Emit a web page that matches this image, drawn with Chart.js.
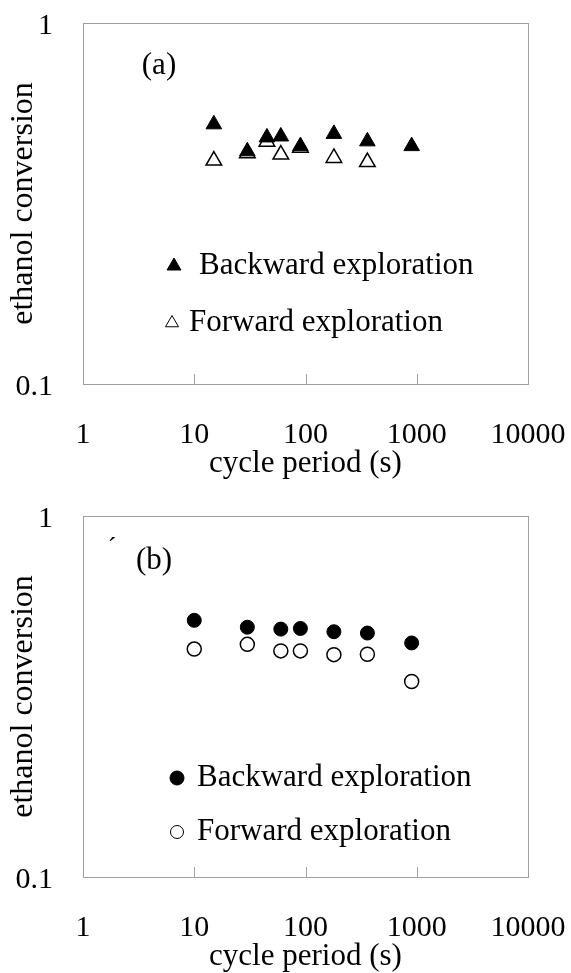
<!DOCTYPE html>
<html>
<head>
<meta charset="utf-8">
<title>ethanol conversion vs cycle period</title>
<script src="https://cdn.jsdelivr.net/npm/chart.js@4.4.0/dist/chart.umd.min.js"></script>
<style>
	html, body { margin: 0; padding: 0; background: #fff; overflow: hidden; }
	canvas { position: absolute; left: 0; }
	#painelA { top: 0; }
	#painelB { top: 493px; }
</style>
</head>
<body>
<canvas id="painelA" width="571" height="493"></canvas>
<canvas id="painelB" width="571" height="493"></canvas>
<script>
// valores
var periodTicks = [1, 10, 100, 1000, 10000];
var conversionTicks = [0.1, 1];
var seriesNames = ['Backward exploration', 'Forward exploration'];

// (a) triangulos
var periodsA = [15, 30, 45, 60, 90, 180, 360, 900];
var backwardA = [0.524, 0.441, 0.482, 0.485, 0.456, 0.493, 0.470, 0.456];
var periodsForwardA = [15, 30, 45, 60, 90, 180, 360];
var forwardA = [0.416, 0.436, 0.469, 0.432, 0.451, 0.423, 0.412];

// (b) circulos
var periodsB = [10, 30, 60, 90, 180, 360, 900];
var backwardB = [0.514, 0.492, 0.486, 0.488, 0.478, 0.474, 0.445];
var forwardB = [0.428, 0.441, 0.423, 0.423, 0.413, 0.414, 0.348];

var FONTE = "'Liberation Serif', 'Times New Roman', serif";

function pontos(xs, ys) {
	return xs.map(function(x, i) {
		return {x: x, y: ys[i]};
	});
}

//sem folga extra dos rotulos, a area do grafico fica so com o layout.padding
function semFolga(s) {
	s.paddingLeft = 0;
	s.paddingRight = 0;
	s.paddingTop = 0;
	s.paddingBottom = 0;
}

function desenhaMarcador(ctx, estilo, x, y, r, cheio, espessura) {
	ctx.beginPath();
	if (estilo === 'triangle') {
		var dx = Math.sin(Math.PI * 2 / 3) * r;
		ctx.moveTo(x, y - r);
		ctx.lineTo(x + dx, y + r / 2);
		ctx.lineTo(x - dx, y + r / 2);
		ctx.closePath();
	} else {
		ctx.arc(x, y, r, 0, Math.PI * 2);
	}
	ctx.fillStyle = cheio ? '#000' : '#fff';
	ctx.fill();
	ctx.lineWidth = espessura;
	ctx.strokeStyle = '#000';
	ctx.stroke();
}

// moldura cinza, tracinhos internos, legenda e rotulo do painel
var molduraPlugin = {
	id: 'moldura',
	beforeDatasetsDraw: function(chart) {
		var area = chart.chartArea;
		var ctx = chart.ctx;
		var sx = chart.scales.x;
		ctx.save();
		ctx.strokeStyle = '#a0a0a0';
		ctx.lineWidth = 1;
		ctx.strokeRect(Math.round(area.left) + 0.5, Math.round(area.top) + 0.5,
			Math.round(area.right - area.left), Math.round(area.bottom - area.top));
		periodTicks.slice(1, -1).forEach(function(v) {
			var px = Math.round(sx.getPixelForValue(v)) + 0.5;
			ctx.beginPath();
			ctx.moveTo(px, area.bottom);
			ctx.lineTo(px, area.bottom - 10);
			ctx.stroke();
		});
		ctx.restore();
	},
	afterDraw: function(chart, args, opts) {
		var ctx = chart.ctx;
		ctx.save();
		ctx.font = '31px ' + FONTE;
		ctx.fillStyle = '#000';
		ctx.textBaseline = 'middle';
		opts.legenda.forEach(function(item, i) {
			desenhaMarcador(ctx, opts.estilo, item.mx, item.my, item.r, i === 0, 1);
			ctx.fillStyle = '#000';
			ctx.textAlign = 'left';
			ctx.fillText(seriesNames[i], item.tx, item.my);
		});
		ctx.textAlign = 'center';
		ctx.fillText(opts.rotulo, opts.rotuloX, opts.rotuloY);
		if (opts.marca) {
			ctx.font = '26px ' + FONTE;
			ctx.fillText(opts.marca, opts.marcaX, opts.marcaY);
		}
		ctx.restore();
	}
};

function PainelConversao(canvasId, datasets, extras) {
	this.ctx = document.getElementById(canvasId);
	this.datasets = datasets;
	this.extras = extras;
}

PainelConversao.prototype.iniciar = function() {
	new Chart(this.ctx, {
		type: 'scatter',
		data: { datasets: this.datasets },
		plugins: [molduraPlugin],
		options: {
			responsive: false,
			animation: false,
			devicePixelRatio: 1,
			events: [],
			layout: { padding: { top: 23, right: 43, bottom: 0, left: 0 } },
			plugins: {
				legend: { display: false },
				tooltip: { enabled: false },
				moldura: this.extras
			},
			scales: {
				x: {
					type: 'logarithmic',
					min: 1,
					max: 10000,
					afterBuildTicks: function(s) {
						s.ticks = periodTicks.map(function(v) { return {value: v}; });
					},
					afterFit: function(s) {
						s.height = 109;
						semFolga(s);
					},
					grid: { display: false, drawTicks: false },
					border: { display: false },
					ticks: {
						color: '#000',
						font: { family: FONTE, size: 30 },
						padding: 33,
						maxRotation: 0,
						autoSkip: false,
						callback: function(v) { return String(v); }
					},
					title: {
						display: true,
						text: 'cycle period (s)',
						color: '#000',
						font: { family: FONTE, size: 31 },
						padding: { top: 0, bottom: 11 }
					}
				},
				y: {
					type: 'logarithmic',
					min: 0.1,
					max: 1,
					afterBuildTicks: function(s) {
						s.ticks = conversionTicks.map(function(v) { return {value: v}; });
					},
					afterFit: function(s) {
						s.width = 83;
						semFolga(s);
					},
					grid: { display: false, drawTicks: false },
					border: { display: false },
					ticks: {
						color: '#000',
						font: { family: FONTE, size: 30 },
						padding: 30,
						labelOffset: 3,
						autoSkip: false,
						callback: function(v) { return String(v); }
					},
					title: {
						display: true,
						text: 'ethanol conversion',
						color: '#000',
						font: { family: FONTE, size: 32 },
						padding: { top: 4, bottom: 0 }
					}
				}
			}
		}
	});
};

var painelA = new PainelConversao('painelA', [{
	label: seriesNames[0],
	data: pontos(periodsA, backwardA),
	pointStyle: 'triangle',
	pointRadius: 9,
	backgroundColor: '#000',
	borderColor: '#000',
	borderWidth: 1
}, {
	label: seriesNames[1],
	data: pontos(periodsForwardA, forwardA),
	pointStyle: 'triangle',
	pointRadius: 9,
	backgroundColor: '#fff',
	borderColor: '#000',
	borderWidth: 1.5
}], {
	estilo: 'triangle',
	legenda: [
		{ mx: 174, my: 266, r: 8, tx: 199 },
		{ mx: 172, my: 323, r: 7.5, tx: 189 }
	],
	rotulo: '(a)', rotuloX: 159, rotuloY: 66
});
painelA.iniciar();

var painelB = new PainelConversao('painelB', [{
	label: seriesNames[0],
	data: pontos(periodsB, backwardB),
	pointStyle: 'circle',
	pointRadius: 7,
	backgroundColor: '#000',
	borderColor: '#000',
	borderWidth: 1
}, {
	label: seriesNames[1],
	data: pontos(periodsB, forwardB),
	pointStyle: 'circle',
	pointRadius: 7,
	backgroundColor: '#fff',
	borderColor: '#000',
	borderWidth: 1.5
}], {
	estilo: 'circle',
	legenda: [
		{ mx: 177, my: 285, r: 7, tx: 197 },
		{ mx: 177, my: 339, r: 6.5, tx: 197 }
	],
	rotulo: '(b)', rotuloX: 154, rotuloY: 68,
	marca: '\u00b4', marcaX: 112, marcaY: 55
});
painelB.iniciar();
</script>
</body>
</html>
